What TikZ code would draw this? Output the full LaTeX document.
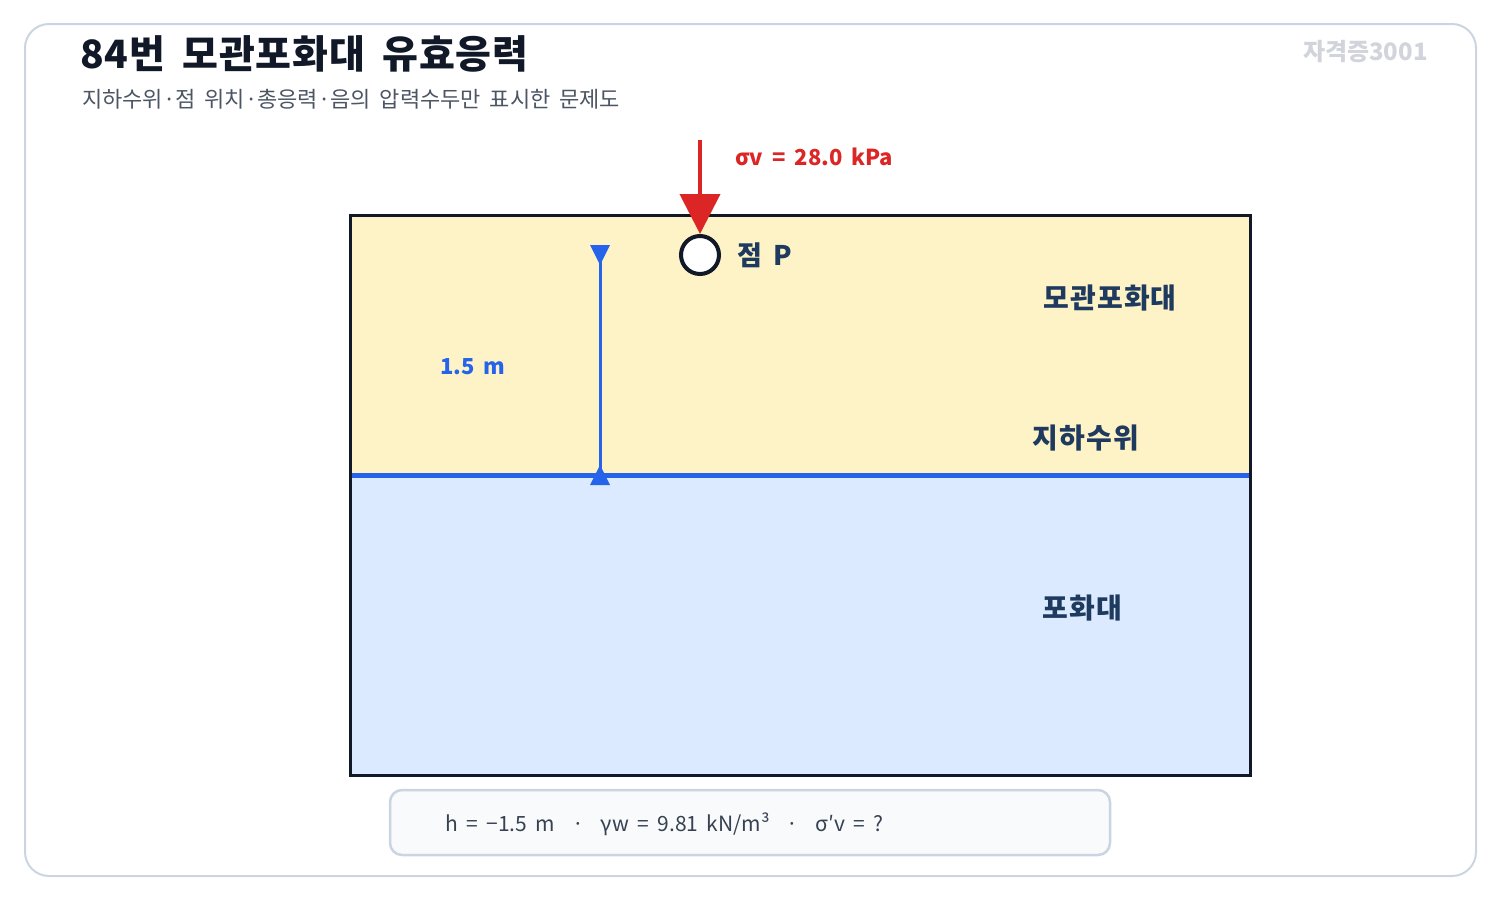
\documentclass[tikz,border=0pt]{standalone}
\usepackage{fontspec}
\setmainfont{Noto Sans CJK KR}
\newfontfamily\widefont[WordSpace=1.8]{Noto Sans CJK KR}
\newfontfamily\titlefont[WordSpace=1.8,LetterSpace=2]{Noto Sans CJK KR}
\newfontfamily\zonefont[WordSpace=1.8,LetterSpace=4]{Noto Sans CJK KR}
\usepackage{tikz}
\usetikzlibrary{arrows.meta}
\usetikzlibrary{positioning}

\definecolor{framegray}{HTML}{CBD5E1}
\definecolor{inkdark}{HTML}{111827}
\definecolor{subgray}{HTML}{4B5563}
\definecolor{markgray}{HTML}{D1D5DB}
\definecolor{capyellow}{HTML}{FEF3C7}
\definecolor{satblue}{HTML}{DBEAFE}
\definecolor{wtblue}{HTML}{2563EB}
\definecolor{loadred}{HTML}{DC2626}
\definecolor{navy}{HTML}{1E3A5F}
\definecolor{notefill}{HTML}{F8FAFC}
\definecolor{notetext}{HTML}{374151}

\tikzset{
  zonelabel/.style={font=\zonefont\fontsize{28}{32}\selectfont\bfseries, text=navy, inner sep=0pt},
  dimtri/.style={fill=wtblue, draw=none},
}

\begin{document}
\begin{tikzpicture}[x=1pt,y=-1pt]
            \useasboundingbox (0,0) rectangle (1500,900);
            % outer card
            \draw[framegray, line width=2pt, rounded corners=24pt] (25,24) rectangle (1476,876);
            % heading
            \node[anchor=base west, inner sep=0pt, text=inkdark, font=\titlefont\fontsize{39}{44}\selectfont\bfseries] (title) at (80,68) {84번 모관포화대 유효응력};
            \node[anchor=base west, inner sep=0pt, text=subgray, font=\widefont\fontsize{22}{26}\selectfont] (subtitle) at (82,107) {지하수위·점 위치·총응력·음의 압력수두만 표시한 문제도};
            \node[anchor=base east, inner sep=0pt, text=markgray, font=\fontsize{24}{28}\selectfont\bfseries] (mark) at (1428,60) {자격증3001};
            % soil layers
            \fill[capyellow] (350,215) rectangle (1250,475);
            \fill[satblue] (350,475) rectangle (1250,775);
            \draw[wtblue, line width=5pt] (350,475) -- (1250,475);
            \draw[inkdark, line width=3pt] (350,215) rectangle (1250,775);
            % dimension of the height above the water table
            \coordinate (dimtop) at (600,245);
            \coordinate (dimbot) at (600,475);
            \draw[wtblue, line width=3pt] (dimtop) -- (dimbot);
            \fill[dimtri] (590,245) -- (610,245) -- (600,265) -- cycle;
            \fill[dimtri] (600,465) -- (610,485) -- (590,485) -- cycle;
            \node[text=wtblue, font=\widefont\fontsize{22}{26}\selectfont\bfseries, inner sep=0pt] (hlabel) at (473,367) {1.5 m};
            % point P and the load
            \node[circle, draw=inkdark, fill=white, line width=4pt, minimum size=38pt, inner sep=0pt] (ptP) at (700,255) {};
            \node[right=16pt of ptP, zonelabel, font=\widefont\fontsize{27}{30}\selectfont\bfseries] (ptPlabel) {점 P};
            \coordinate (loadtop) at (700,140);
            \draw[loadred, line width=4pt, -{Triangle[length=40pt,width=40pt]}] (loadtop) -- (ptP.north);
            \node[anchor=west, inner sep=0pt, text=loadred, font=\widefont\fontsize{22}{26}\selectfont\bfseries] (sigv) at (735,157) {σv = 28.0 kPa};
            % zone names
            \node[zonelabel] (capzone) at (1110,298) {모관포화대};
            \node[zonelabel] (wtlabel) at (1086,438) {지하수위};
            \node[zonelabel] (satzone) at (1082,608) {포화대};
            % given values
            \draw[framegray, fill=notefill, line width=2.5pt, rounded corners=12pt] (390,790) rectangle (1110,855);
            \node[anchor=west, inner sep=0pt, text=notetext, font=\widefont\fontsize{21}{24}\selectfont] (given) at (445,824) {h = −1.5 m \ · \ γw = 9.81 kN/m³ \ · \ σ′v = ?};
        \end{tikzpicture}
\end{document}
